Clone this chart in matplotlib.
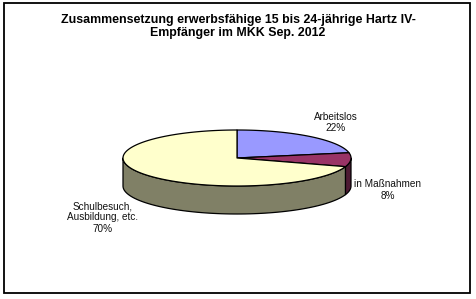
import numpy as np
import matplotlib
matplotlib.use("Agg")
import matplotlib.pyplot as plt
from matplotlib.patches import Polygon, Rectangle

# Data
categories = ["Arbeitslos", "in Maßnahmen", "Schulbesuch,\nAusbildung, etc."]
values = [22, 8, 70]
top_colors = ["#9999FF", "#993366", "#FFFFCC"]
side_colors = ["#4D4D80", "#4D1A33", "#808066"]
title = "Zusammensetzung erwerbsfähige 15 bis 24-jährige Hartz IV-\nEmpfänger im MKK Sep. 2012"

W, H = 477, 299
fig = plt.figure(figsize=(W / 100, H / 100), dpi=100)
ax = fig.add_axes([0, 0, 1, 1])
ax.set_xlim(0, W)
ax.set_ylim(H, 0)
ax.axis("off")

# frame
ax.add_patch(Rectangle((4, 3), 466, 290, fill=False, edgecolor="black", lw=1.3))

cx, cy, rx, ry, depth = 237, 158, 114, 28, 28

def pt(t):
    r = np.radians(t)
    return cx + rx * np.cos(r), cy - ry * np.sin(r)

total = sum(values)
starts, ends = [], []
a = 90.0
for v in values:
    e = a - 360.0 * v / total
    starts.append(a)
    ends.append(e)
    a = e

# sides (visible front range: -180 .. 0 in math angles)
for s, e, sc in zip(starts, ends, side_colors):
    for shift in (0, -360, 360):
        lo = max(e + shift, -180)
        hi = min(s + shift, 0)
        if hi > lo:
            ts = np.linspace(lo, hi, 80)
            top = [pt(t) for t in ts]
            bot = [(x, y + depth) for x, y in top[::-1]]
            ax.add_patch(Polygon(top + bot, closed=True, facecolor=sc,
                                 edgecolor="black", lw=0.9, joinstyle="round"))

# top faces
for s, e, tc in zip(starts, ends, top_colors):
    ts = np.linspace(s, e, 200)
    pts = [(cx, cy)] + [pt(t) for t in ts]
    ax.add_patch(Polygon(pts, closed=True, facecolor=tc, edgecolor="black",
                         lw=0.9, joinstyle="round"))

ax.text(238, 26.5, title, ha="center", va="center", fontsize=8.9,
        fontweight="bold", family="Liberation Sans", linespacing=1.15)

label_pos = [(336, 122.5), (388, 190), (103, 217.5)]
for cat, v, (x, y) in zip(categories, values, label_pos):
    ax.text(x, y, f"{cat}\n{v}%", ha="center", va="center", fontsize=7.2,
            family="Liberation Sans", color="#111111", linespacing=1.15)

fig.savefig("out.png", dpi=100)
